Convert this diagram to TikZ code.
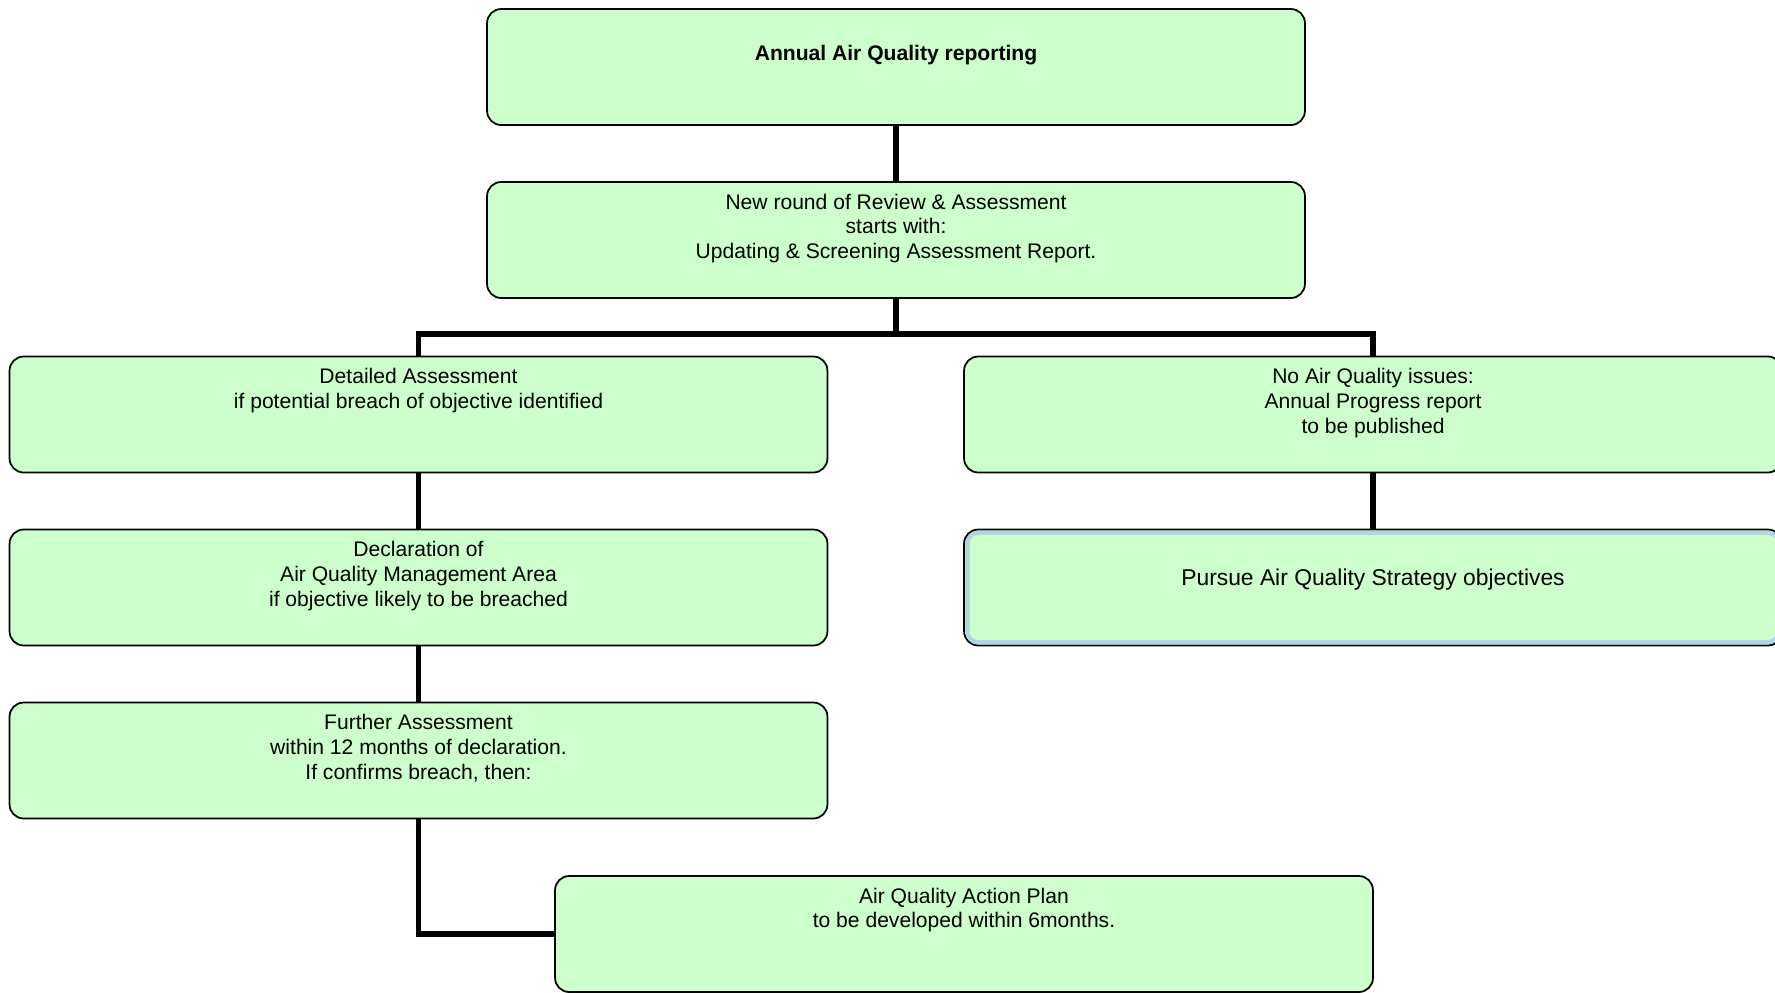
\documentclass[tikz,border=0pt]{standalone}
\usepackage{fontspec}
\setmainfont{Liberation Sans}
\usetikzlibrary{positioning}
\definecolor{boxgreen}{RGB}{204,255,204}
\definecolor{edgeblue}{RGB}{176,212,228}

\tikzset{
 stage/.style={draw=black,line width=1pt,fill=boxgreen,rounded corners=8pt,minimum width=16.36cm,minimum height=2.32cm,inner sep=0pt},
 stagetext/.style={inner sep=0pt,align=center,font=\fontsize{12}{14.1}\selectfont},
 link/.style={line width=3pt},
}

\begin{document}
\begin{tikzpicture}[x=0.02cm,y=-0.02cm]
 \useasboundingbox (0,0) rectangle (1775,992);
 \node[stage] (annual) at (896,67) {};
 \node[stage] (review) at (896,240) {};
 \node[stage] (detail) at (418.5,414.5) {};
 \node[stage] (aqma) at (418.5,587.5) {};
 \node[stage] (further) at (418.5,760.5) {};
 \node[stage] (plan) at (964,934) {};
 \node[stage] (noissue) at (1373,414.5) {};
 \node[stage] (pursue) at (1373,587.5) {};
 \draw[edgeblue,line width=2.4pt,rounded corners=6pt] ([xshift=2.4pt,yshift=-2.4pt]pursue.north west) rectangle ([xshift=-2.4pt,yshift=2.4pt]pursue.south east);
 \coordinate (split) at (896,334);
 \draw[link] (annual.south) -- (review.north);
 \draw[link] (review.south) -- (split);
 \draw[link] (split) -| (detail.north);
 \draw[link] (split) -| (noissue.north);
 \draw[link] (detail.south) -- (aqma.north);
 \draw[link] (aqma.south) -- (further.north);
 \draw[link] (further.south) |- (plan.west);
 \draw[link] (noissue.south) -- (pursue.north);
 \node[stagetext,font=\fontsize{12}{14.1}\selectfont\bfseries,below=21pt of annual.north] (annualtxt) {Annual Air Quality reporting};
 \node[stagetext,below=7pt of review.north] (reviewtxt) {New round of Review \& Assessment\\starts with:\\Updating \& Screening Assessment Report.};
 \node[stagetext,below=7pt of detail.north] (detailtxt) {Detailed Assessment\\if potential breach of objective identified};
 \node[stagetext,below=7pt of aqma.north] (aqmatxt) {Declaration of\\Air Quality Management Area\\if objective likely to be breached};
 \node[stagetext,below=7pt of further.north] (furthertxt) {Further Assessment\\within 12 months of declaration.\\If confirms breach, then:};
 \node[stagetext,below=7pt of plan.north] (plantxt) {Air Quality Action Plan\\to be developed within 6months.};
 \node[stagetext,below=7pt of noissue.north] (noissuetxt) {No Air Quality issues:\\Annual Progress report\\to be published};
 \node[stagetext,font=\fontsize{13}{15}\selectfont,below=22.5pt of pursue.north] (pursuetxt) {Pursue Air Quality Strategy objectives};
\end{tikzpicture}
\end{document}
